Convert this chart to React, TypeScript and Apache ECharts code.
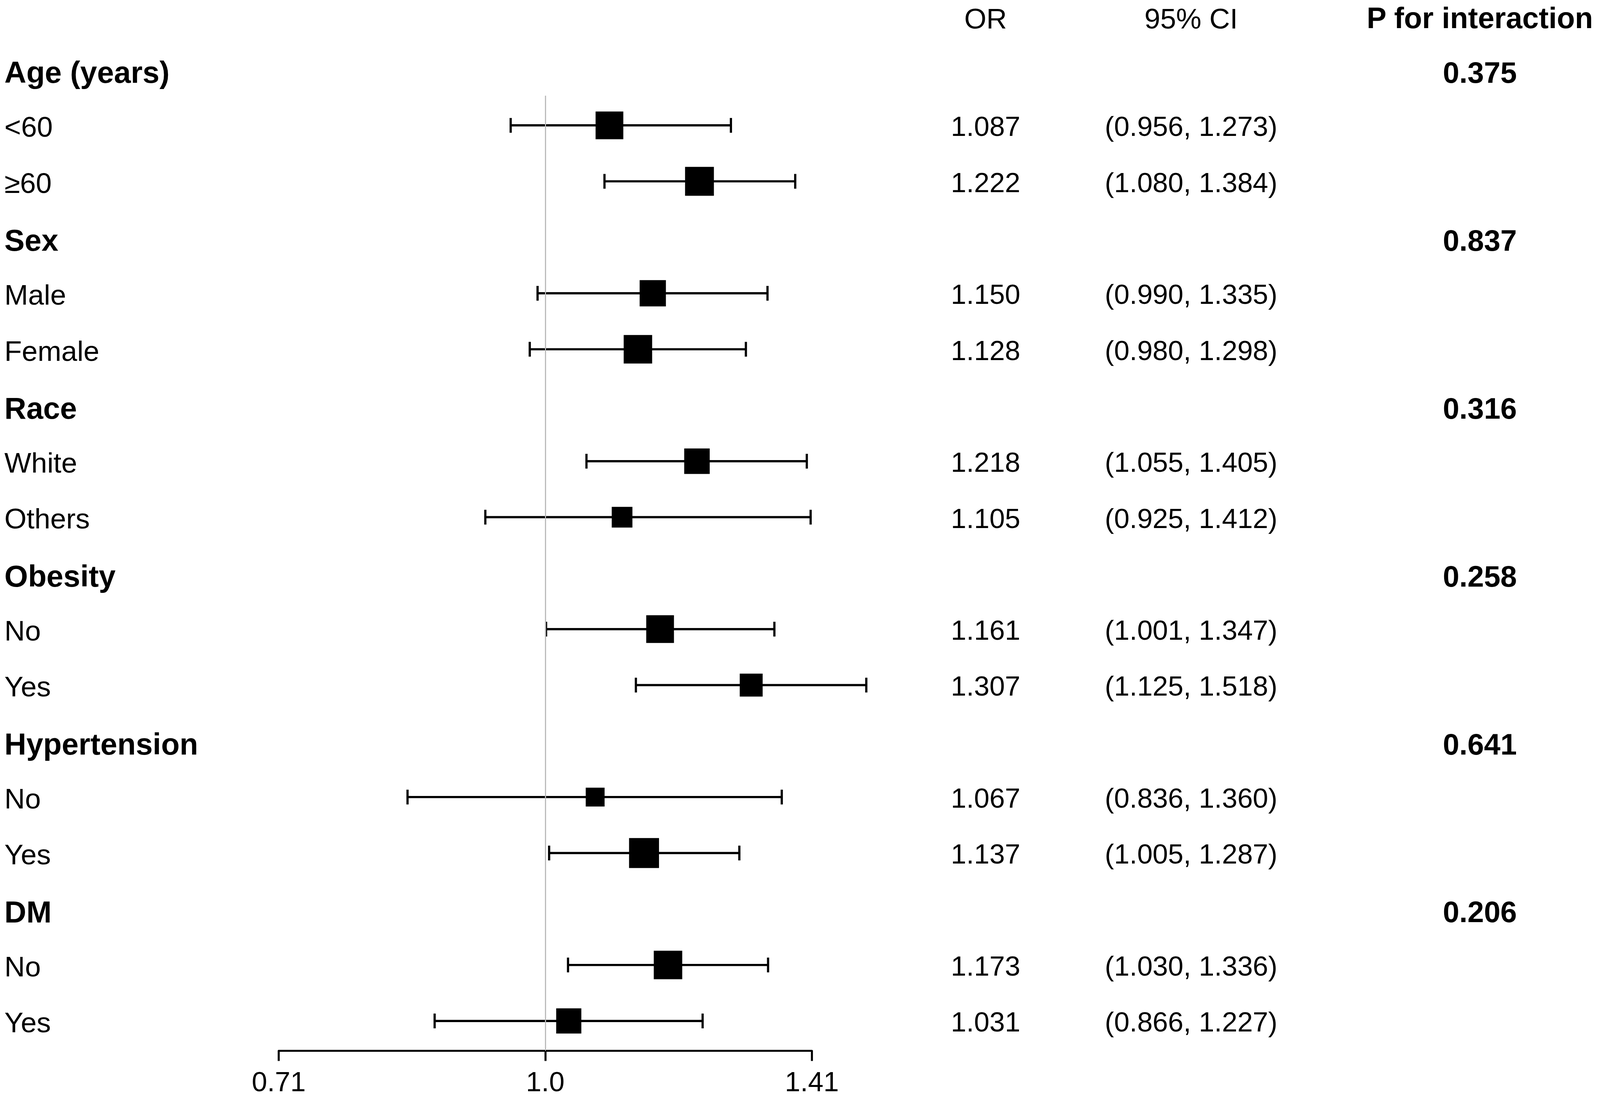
import React, { useEffect, useRef } from "react";
import * as echarts from "echarts";

// ---- data ----
const groups = ["Age (years)", "Sex", "Race", "Obesity", "Hypertension", "DM"];
const pInteraction = ["0.375", "0.837", "0.316", "0.258", "0.641", "0.206"];
const subgroups = ["<60", "≥60", "Male", "Female", "White", "Others", "No", "Yes", "No", "Yes", "No", "Yes"];
const orValues = [1.087, 1.222, 1.15, 1.128, 1.218, 1.105, 1.161, 1.307, 1.067, 1.137, 1.173, 1.031];
const ciLower = [0.956, 1.08, 0.99, 0.98, 1.055, 0.925, 1.001, 1.125, 0.836, 1.005, 1.03, 0.866];
const ciUpper = [1.273, 1.384, 1.335, 1.298, 1.405, 1.412, 1.347, 1.518, 1.36, 1.287, 1.336, 1.227];
const boxWeights = [0.75, 0.78, 0.71, 0.77, 0.69, 0.56, 0.75, 0.62, 0.51, 0.81, 0.77, 0.68];
const xTickLabels = ["0.71", "1.0", "1.41"];
const headers = ["OR", "95% CI", "P for interaction"];

const FONT = '"Liberation Sans", Arial, sans-serif';
const REF_W = 4328;
const REF_H = 2819;

type Row = {
  idx: number;
  label: string;
  bold: boolean;
  p?: string;
  or?: number;
  lo?: number;
  hi?: number;
  w?: number;
};

function buildRows(): Row[] {
  const rows: Row[] = [];
  let idx = 0;
  let s = 0;
  groups.forEach((g, gi) => {
    rows.push({ idx: idx++, label: g, bold: true, p: pInteraction[gi] });
    for (let k = 0; k < 2; k++) {
      rows.push({
        idx: idx++,
        label: subgroups[s],
        bold: false,
        or: orValues[s],
        lo: ciLower[s],
        hi: ciUpper[s],
        w: boxWeights[s],
      });
      s++;
    }
  });
  return rows;
}

export default function App() {
  const ref = useRef<HTMLDivElement>(null);

  useEffect(() => {
    const el = ref.current;
    if (!el) return;
    const chart = echarts.init(el, null, { renderer: "svg" });
    const rows = buildRows();

    const cw = el.clientWidth || REF_W;
    const ch = el.clientHeight || REF_H;
    const sx = cw / REF_W;
    const sy = ch / REF_H;
    const sc = Math.min(sx, sy);
    const X = (v: number) => v * sx;
    const Y = (v: number) => v * sy;
    const S = (v: number) => v * sc;
    const font = (size: number, bold = false) => `${bold ? "bold " : ""}${S(size)}px ${FONT}`;

    const txt = (text: string, x: number, y: number, f: string, align: string) => ({
      type: "text",
      style: {
        text,
        x,
        y,
        font: f,
        fill: "#000",
        align,
        textAlign: align,
        verticalAlign: "middle",
        textVerticalAlign: "middle",
      },
    });

    const COL_OR = X(2666);
    const COL_CI = X(3222);
    const COL_P = X(4003);

    const option: any = {
      animation: false,
      backgroundColor: "#fff",
      grid: { left: X(754), width: X(1442), top: Y(245), height: Y(2445) },
      xAxis: {
        type: "value",
        min: -0.5,
        max: 0.5,
        interval: 0.5,
        splitLine: { show: false },
        axisLine: { show: true, lineStyle: { color: "#000", width: S(5.5) } },
        axisTick: { show: true, length: S(28), lineStyle: { color: "#000", width: S(5.5) } },
        axisLabel: {
          margin: S(46),
          fontSize: S(75),
          fontFamily: FONT,
          color: "#000",
          formatter: (v: number) => xTickLabels[Math.round((v + 0.5) / 0.5)] ?? "",
        },
      },
      yAxis: {
        type: "value",
        inverse: true,
        min: 0.47,
        max: 17.53,
        show: false,
        splitLine: { show: false },
      },
      graphic: [
        txt(headers[0], COL_OR, Y(47), font(77), "center"),
        txt(headers[1], COL_CI, Y(47), font(77), "center"),
        txt(headers[2], COL_P, Y(45), font(80, true), "center"),
      ],
      series: [
        {
          type: "custom",
          clip: false,
          silent: true,
          data: rows.map((r) => [0, r.idx]),
          renderItem: (params: any, api: any) => {
            const r = rows[params.dataIndex];
            const y = api.coord([0, r.idx])[1];
            const children: any[] = [];
            children.push(
              txt(r.label, X(12), y + S(r.bold ? 8 : 4), r.bold ? font(82, true) : font(77), "left")
            );
            if (r.p) {
              children.push(txt(r.p, COL_P, y + S(8), font(80, true), "center"));
            }
            if (r.or != null) {
              const xl = api.coord([Math.log2(r.lo as number), r.idx])[0];
              const xh = api.coord([Math.log2(r.hi as number), r.idx])[0];
              const xo = api.coord([Math.log2(r.or), r.idx])[0];
              const s = S((r.w as number) * 100);
              const cap = S(20);
              const ls = { stroke: "#000", lineWidth: S(6) };
              children.push({ type: "line", shape: { x1: xl, y1: y, x2: xh, y2: y }, style: ls });
              children.push({ type: "line", shape: { x1: xl, y1: y - cap, x2: xl, y2: y + cap }, style: ls });
              children.push({ type: "line", shape: { x1: xh, y1: y - cap, x2: xh, y2: y + cap }, style: ls });
              children.push({
                type: "rect",
                shape: { x: xo - s / 2, y: y - s / 2, width: s, height: s },
                style: { fill: "#000" },
              });
              children.push(txt(r.or.toFixed(3), COL_OR, y + S(3), font(75), "center"));
              children.push(
                txt(
                  `(${(r.lo as number).toFixed(3)}, ${(r.hi as number).toFixed(3)})`,
                  COL_CI,
                  y + S(3),
                  font(75),
                  "center"
                )
              );
            }
            return { type: "group", children };
          },
          markLine: {
            silent: true,
            symbol: "none",
            label: { show: false },
            lineStyle: { color: "#b8b8b8", width: S(3), type: "solid" },
            data: [{ xAxis: 0 }],
          },
          z: 3,
        },
      ],
    };
    chart.setOption(option);
    return () => chart.dispose();
  }, []);

  return (
    <div
      ref={ref}
      style={{ position: "fixed", left: 0, top: 0, width: "100vw", height: "100vh", background: "#fff" }}
    />
  );
}
